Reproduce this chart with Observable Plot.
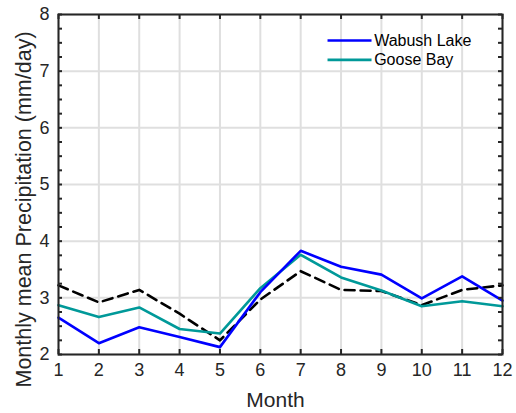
<!DOCTYPE html>
<html>
<head>
<meta charset="utf-8">
<script src="https://cdn.jsdelivr.net/npm/d3@7"></script>
<script src="https://cdn.jsdelivr.net/npm/@observablehq/plot@0.6"></script>
<style>
  html, body { margin: 0; padding: 0; background: #fff; }
  #chart { position: relative; width: 516px; height: 413px; }
  svg { font-family: "Liberation Sans", Arial, Helvetica, sans-serif; }
  #chart g[aria-label="x-axis tick label"] text,
  #chart g[aria-label="y-axis tick label"] text { font-size: 18px; }
</style>
</head>
<body>
<div id="chart"></div>
<script>
// Monthly mean precipitation (mm/day)
const months = [1, 2, 3, 4, 5, 6, 7, 8, 9, 10, 11, 12];
const wabushLake = [2.65, 2.20, 2.48, 2.31, 2.13, 3.10, 3.83, 3.55, 3.41, 2.99, 3.38, 2.95];
const gooseBay   = [2.87, 2.66, 2.83, 2.45, 2.37, 3.17, 3.76, 3.36, 3.13, 2.85, 2.94, 2.85];
const reference  = [3.22, 2.92, 3.14, 2.72, 2.25, 2.97, 3.47, 3.14, 3.12, 2.87, 3.14, 3.22];
const yTicks = [2, 3, 4, 5, 6, 7, 8];
const seriesNames = ["Wabush Lake", "Goose Bay"];
const seriesColors = ["#0000ff", "#009999"];

const W = 516, H = 413;
const mL = 58, mR = 14, mT = 14, mB = 59;
const innerW = W - mL - mR, innerH = H - mT - mB;

const rows = (vals) => months.map((m, i) => ({month: m, value: vals[i]}));
const minorY = d3.range(2, 8.001, 0.25);
const axisColor = "#262626";
const gridColor = "#dfdfdf";

// legend rows: placed in data units in the upper right of the box
const legendY = [7.54, 7.20];

const plot = Plot.plot({
  width: W, height: H,
  marginLeft: mL, marginRight: mR, marginTop: mT, marginBottom: mB,
  style: {fontSize: "18px", fontFamily: "Liberation Sans, Arial, sans-serif", color: axisColor, background: "#fff"},
  x: {domain: [1, 12], ticks: months, label: null},
  y: {domain: [2, 8], ticks: yTicks, label: null},
  marks: [
    // grid
    Plot.ruleX(months, {x: d => d, stroke: gridColor, strokeWidth: 2}),
    Plot.ruleY(yTicks, {y: d => d, stroke: gridColor, strokeWidth: 2}),
    // series
    Plot.line(rows(reference), {x: "month", y: "value", stroke: "#000", strokeWidth: 2.6, strokeDasharray: "10,6"}),
    Plot.line(rows(gooseBay), {x: "month", y: "value", stroke: seriesColors[1], strokeWidth: 2.6}),
    Plot.line(rows(wabushLake), {x: "month", y: "value", stroke: seriesColors[0], strokeWidth: 2.6}),
    // inward ticks on every side of the box
    Plot.tickY(minorY, {y: d => d, stroke: axisColor, strokeWidth: 2, insetRight: innerW - 4}),
    Plot.tickY(minorY, {y: d => d, stroke: axisColor, strokeWidth: 2, insetLeft: innerW - 4}),
    Plot.tickX(months, {x: d => d, stroke: axisColor, strokeWidth: 2, insetTop: innerH - 5}),
    Plot.tickX(months, {x: d => d, stroke: axisColor, strokeWidth: 2, insetBottom: innerH - 5}),
    Plot.frame({stroke: axisColor, strokeWidth: 2}),
    // tick labels
    Plot.axisX({ticks: months, tickSize: 0, tickPadding: 9, label: null, tickFormat: d => String(d)}),
    Plot.axisY({ticks: yTicks, tickSize: 0, tickPadding: 9, label: null, tickFormat: d => String(d)}),
    // axis titles
    Plot.text(["Month"], {frameAnchor: "bottom", dx: -5, dy: 52, fontSize: 21, fill: axisColor, lineAnchor: "bottom"}),
    Plot.text(["Monthly mean Precipitation (mm/day)"], {frameAnchor: "left", dx: -28, dy: 25, rotate: -90, fontSize: 21.5, fill: axisColor, textAnchor: "middle", lineAnchor: "bottom"}),
    // legend
    Plot.link(seriesNames, {x1: 7.665, x2: 8.755, y1: (d, i) => legendY[i], y2: (d, i) => legendY[i], stroke: (d, i) => seriesColors[i], strokeWidth: 2.6}),
    Plot.text(seriesNames, {x: 8.82, y: (d, i) => legendY[i], text: d => d, textAnchor: "start", fontSize: 16, fill: "#000"})
  ]
});

document.getElementById("chart").appendChild(plot);
</script>
</body>
</html>
